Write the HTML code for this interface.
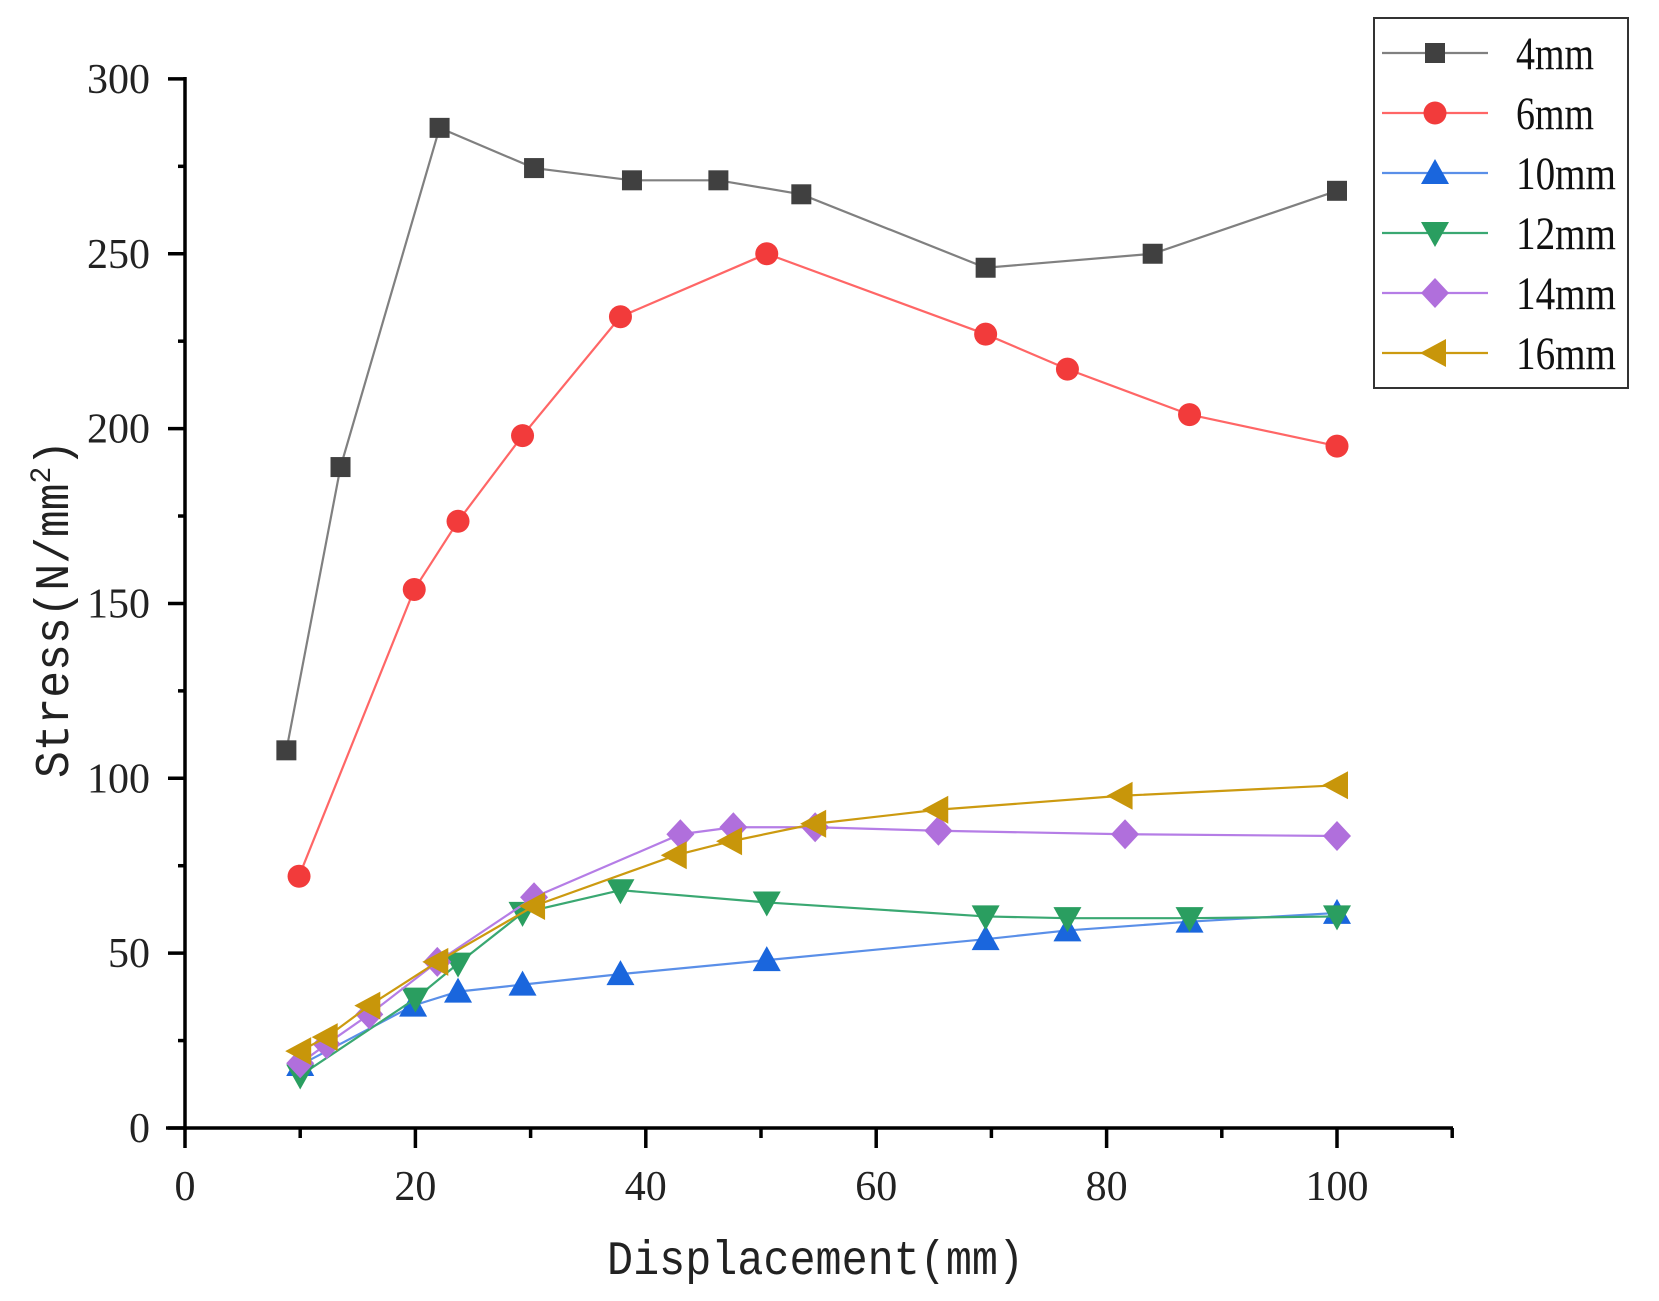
<!DOCTYPE html>
<html><head><meta charset="utf-8"><style>
html,body{margin:0;padding:0;background:#fff;}
svg{display:block;}
.t{font-family:"Liberation Serif",serif;font-size:42px;fill:#222;}
.lg{font-family:"Liberation Serif",serif;font-size:47px;fill:#111;}
.ax{font-family:"Liberation Mono",monospace;font-size:48px;fill:#222;}
</style></head><body>
<svg id="s" width="1659" height="1301" viewBox="0 0 1659 1301" xmlns="http://www.w3.org/2000/svg">
<g stroke="#000" stroke-width="3.5" fill="none">
<line x1="185" y1="77" x2="185" y2="1130"/>
<line x1="166" y1="1128" x2="1453" y2="1128"/>
</g>
<g id="ticks" stroke="#000" stroke-width="3.5"></g>
<g id="labels"></g>
<text class="ax" x="607" y="1274" textLength="417" lengthAdjust="spacingAndGlyphs">Displacement(mm)</text>
<text class="ax" transform="translate(68,778) rotate(-90)" textLength="338" lengthAdjust="spacingAndGlyphs">Stress(N/mm<tspan font-size="30" dy="-18">2</tspan><tspan dy="18">)</tspan></text>
<g id="series"></g>
<rect x="1374" y="18" width="254" height="370" fill="#fff" stroke="#333" stroke-width="2"/>
<g id="legend"></g>
</svg>
<script>
var NS="http://www.w3.org/2000/svg";
function el(t,a,p){var e=document.createElementNS(NS,t);for(var k in a)e.setAttribute(k,a[k]);(p||document.getElementById('s')).appendChild(e);return e;}
function X(x){return 185+11.52*x;} function Y(y){return 1128-3.497*y;}
var tk=document.getElementById('ticks'),lb=document.getElementById('labels');
for(var v=0;v<=110;v+=10){var maj=v%20==0;el('line',{x1:X(v),y1:1128,x2:X(v),y2:1128+(maj?20:10)},tk);
 if(maj){var t=el('text',{x:X(v),y:1200,'text-anchor':'middle','class':'t'},lb);t.textContent=v;}}
for(var v=0;v<=300;v+=25){var maj=v%50==0;el('line',{x1:185,y1:Y(v),x2:185-(maj?17:7),y2:Y(v)},tk);
 if(maj){var t=el('text',{x:150,y:Y(v)+14,'text-anchor':'end','class':'t'},lb);t.textContent=v;}}
var S=[
{n:'4mm',lc:'#808080',mc:'#404040',m:'sq',d:[[8.8,108],[13.5,189],[22.1,286],[30.3,274.5],[38.8,271],[46.3,271],[53.5,267],[69.5,246],[84,250],[100,268]]},
{n:'6mm',lc:'#ff6666',mc:'#f23b3b',m:'ci',d:[[9.9,72],[19.9,154],[23.7,173.5],[29.3,198],[37.8,232],[50.5,250],[69.5,227],[76.6,217],[87.2,204],[100,195]]},
{n:'10mm',lc:'#5a8fe8',mc:'#1a66dd',m:'up',d:[[10,18],[19.8,35],[23.7,39],[29.3,41],[37.8,44],[50.5,48],[69.5,54],[76.6,56.5],[87.2,59],[100,61.5]]},
{n:'12mm',lc:'#3aa872',mc:'#2a9e60',m:'dn',d:[[10,15],[20,37],[23.7,47],[29.3,61.5],[37.8,68],[50.5,64.5],[69.5,60.5],[76.6,60],[87.2,60],[100,60.5]]},
{n:'14mm',lc:'#b57de6',mc:'#b06fdc',m:'di',d:[[10,18.5],[12.3,24],[16,32.5],[21.9,47.5],[30.3,66],[43,84],[47.6,86],[54.7,86],[65.4,85],[81.6,84],[100,83.5]]},
{n:'16mm',lc:'#cc9a10',mc:'#c8960a',m:'lt',d:[[10,22],[12.3,26],[16,35],[21.9,47.5],[30.3,63.5],[42.6,78],[47.4,82],[54.7,87],[65.3,91],[81.3,95],[100,98]]}];
function mk(t,x,y,c,g){
 if(t=='sq')el('rect',{x:x-10,y:y-10,width:20,height:20,fill:c},g);
 else if(t=='ci')el('circle',{cx:x,cy:y,r:11.5,fill:c},g);
 else if(t=='up')el('polygon',{points:(x-14)+','+(y+11)+' '+(x+14)+','+(y+11)+' '+x+','+(y-14),fill:c},g);
 else if(t=='dn')el('polygon',{points:(x-14)+','+(y-11)+' '+(x+14)+','+(y-11)+' '+x+','+(y+14),fill:c},g);
 else if(t=='di')el('polygon',{points:x+','+(y-15)+' '+(x+14)+','+y+' '+x+','+(y+15)+' '+(x-14)+','+y,fill:c},g);
 else if(t=='lt')el('polygon',{points:(x-15)+','+y+' '+(x+11)+','+(y-14)+' '+(x+11)+','+(y+14),fill:c},g);}
var sg=document.getElementById('series'),lg=document.getElementById('legend');
S.forEach(function(s,i){
 el('polyline',{points:s.d.map(function(p){return X(p[0])+','+Y(p[1]);}).join(' '),fill:'none',stroke:s.lc,'stroke-width':2.2},sg);
 s.d.forEach(function(p){mk(s.m,X(p[0]),Y(p[1]),s.mc,sg);});
 var yy=53+60*i;
 el('line',{x1:1382,y1:yy,x2:1488,y2:yy,stroke:s.lc,'stroke-width':2.2},lg);
 mk(s.m,1435,yy,s.mc,lg);
 var t=el('text',{x:1516,y:yy+16,'class':'lg',textLength:(s.n.length==3?78:100),lengthAdjust:'spacingAndGlyphs'},lg);t.textContent=s.n;
});
</script>
</body></html>
